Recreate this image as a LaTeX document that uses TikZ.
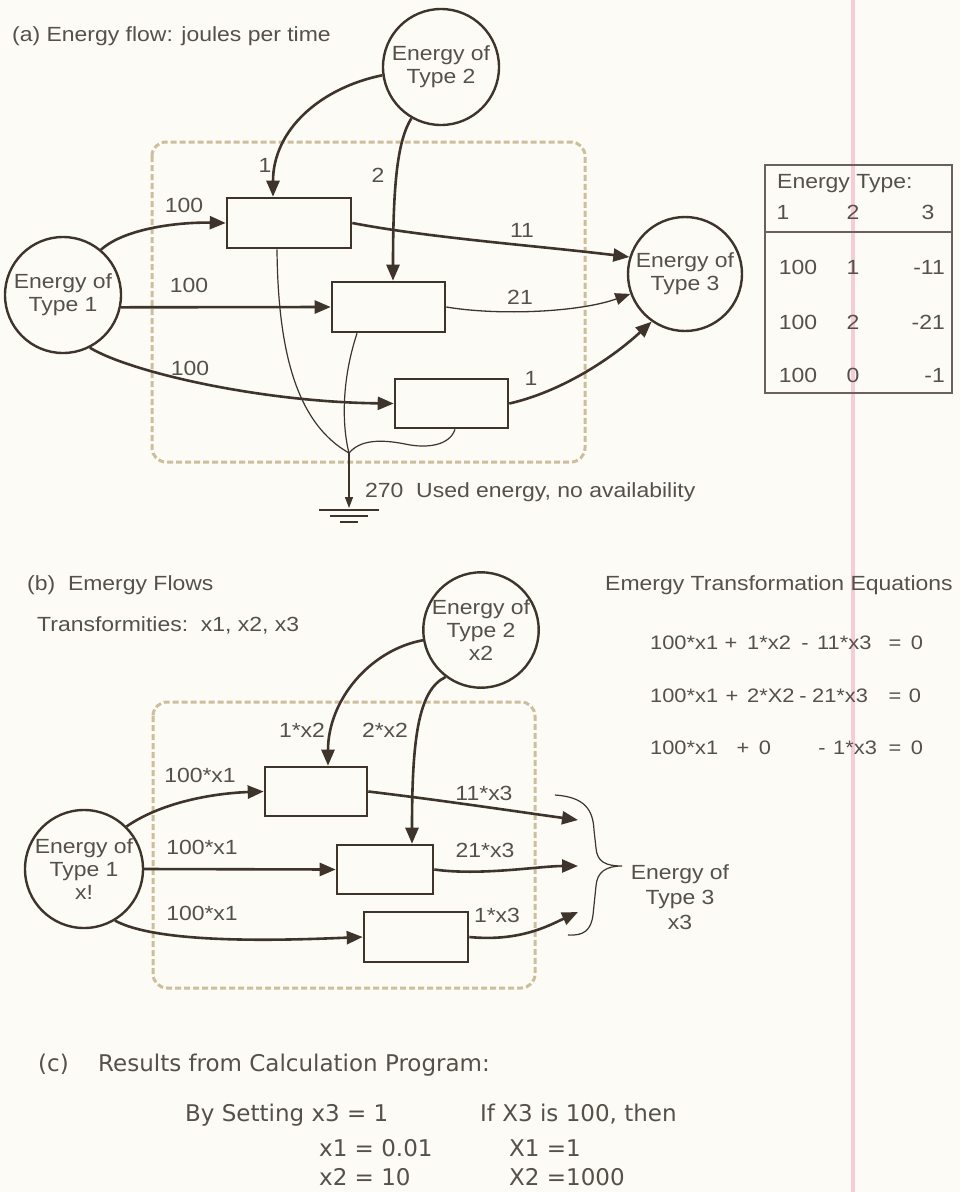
\documentclass[tikz,border=0pt]{standalone}
\usepackage{fontspec}
\setmainfont[FakeStretch=1.12]{Liberation Sans}
\newfontfamily\cfont{DejaVu Sans}
\usetikzlibrary{arrows.meta,calc}
\definecolor{bg}{HTML}{FCFBF6}
\definecolor{lc}{HTML}{3E342B}
\definecolor{tc}{HTML}{55504A}
\definecolor{dc}{HTML}{CDBF9E}
\definecolor{pk}{HTML}{F6CDD6}
\definecolor{tb}{HTML}{6A625A}
\tikzset{
  ecirc/.style={circle, draw=lc, line width=2.4pt, minimum size=116pt, inner sep=0pt, align=center, text=tc, font=\fontsize{20.5}{23}\selectfont},
  pbox/.style={draw=lc, line width=2.6pt, inner sep=0pt},
  flow/.style={draw=lc, line width=2.6pt, -{Triangle[length=16pt,width=13pt]}},
  thinflow/.style={draw=lc, line width=1.3pt, -{Triangle[length=15pt,width=12pt]}},
  gflow/.style={draw=lc, line width=1.2pt, -{Triangle[length=11pt,width=8pt]}},
  heat/.style={draw=lc, line width=1.2pt},
  lbl/.style={text=tc, inner sep=0pt},
  eq/.style={text=tc, inner sep=0pt, anchor=base west, font=\fontsize{19.5}{23}\selectfont},
  eqc/.style={text=tc, inner sep=0pt, anchor=base, font=\fontsize{19.5}{23}\selectfont},
  frame/.style={draw=dc, line width=3pt, dash pattern=on 6pt off 3pt, rounded corners=14pt},
  tbl/.style={draw=tb, line width=1.6pt},
  cf/.style={text=tc, inner sep=0pt, font=\cfont\fontsize{23}{27}\selectfont}
}
\begin{document}
\begin{tikzpicture}[x=1pt,y=-1pt,font=\fontsize{20.5}{24}\selectfont]
\fill[bg] (0,0) rectangle (960,1192);
\useasboundingbox (0,0) rectangle (960,1192);
\draw[pk, line width=4pt] (853,0) -- (853,1192);

% ---------- (a) ----------
\node[lbl, anchor=west] at (12,36) {(a) Energy flow: joules per time};
\draw[frame] (152,142) rectangle (585,462);

\node[ecirc] (t2a) at (441,67) {Energy of\\Type 2};
\node[ecirc] (t1a) at (63,295) {Energy of\\Type 1};
\node[ecirc, minimum size=114pt] (t3a) at (685,274) {Energy of\\Type 3};
\node[pbox, minimum width=124pt, minimum height=50pt] (b1a) at (289,223) {};
\node[pbox, minimum width=113pt, minimum height=50pt] (b2a) at (388.5,307) {};
\node[pbox, minimum width=113pt, minimum height=49pt] (b3a) at (451.5,403.5) {};
\coordinate (jn) at (349,453);
\coordinate (gnd) at (349,508);

\draw[flow] (t1a.50) .. controls (125,228) and (180,222) .. (b1a.west);
\draw[flow] (t1a.-12) -- (b2a.west);
\draw[flow] (t1a.-63) .. controls (130,372) and (260,402) .. (b3a.west);
\draw[flow] (t2a.188) .. controls (320,88) and (273,130) .. ([xshift=-16pt]b1a.north);
\draw[flow] (t2a.240) .. controls (398,140) and (393,180) .. ([xshift=4.5pt]b2a.north);
\draw[flow] (b1a.east) .. controls (430,238) and (540,246) .. (t3a.163);
\draw[thinflow] (b2a.east) .. controls (500,316) and (580,312) .. (t3a.200);
\draw[flow] (b3a.east) .. controls (560,392) and (610,360) .. (t3a.235);

\draw[heat] ([xshift=-12pt]b1a.south) .. controls (278,360) and (300,425) .. (jn);
\draw[heat] ([xshift=-31.5pt]b2a.south) .. controls (340,385) and (343,430) .. (jn);
\draw[heat] ([xshift=3.5pt]b3a.south) .. controls (450,445) and (428,449) .. (405,444) .. controls (380,439) and (360,440) .. (jn);
\draw[gflow] (jn) -- (gnd);
\draw[heat] ($(gnd)+(-30,2)$) -- ($(gnd)+(30,2)$);
\draw[heat] ($(gnd)+(-19,8)$) -- ($(gnd)+(19,8)$);
\draw[heat] ($(gnd)+(-9,14)$) -- ($(gnd)+(9,14)$);

\node[lbl] at (184,205) {100};
\node[lbl] at (189,285) {100};
\node[lbl] at (190,368) {100};
\node[lbl] at (265,165) {1};
\node[lbl] at (378,175) {2};
\node[lbl] at (522,230) {11};
\node[lbl] at (520,297) {21};
\node[lbl] at (531,378) {1};
\node[lbl, anchor=west] at (365,492) {270\ \ Used energy, no availability};

% table
\draw[tbl] (765,165) rectangle (952,393);
\draw[tbl] (765,232) -- (952,232);
\node[lbl, anchor=west] at (777,184) {Energy Type:};
\node[lbl] at (783,212) {1};
\node[lbl] at (853,212) {2};
\node[lbl] at (928,212) {3};
\node[lbl] at (798,267) {100};
\node[lbl] at (853,267) {1};
\node[lbl, anchor=east] at (945,267) {-11};
\node[lbl] at (798,322) {100};
\node[lbl] at (853,322) {2};
\node[lbl, anchor=east] at (945,322) {-21};
\node[lbl] at (798,375) {100};
\node[lbl] at (853,375) {0};
\node[lbl, anchor=east] at (945,375) {-1};

% ---------- (b) ----------
\node[lbl, anchor=west] at (27,585) {(b)\ \ Emergy Flows};
\node[lbl, anchor=west] at (37,625) {Transformities:\ \ x1, x2, x3};
\node[lbl, anchor=west] at (605,585) {Emergy Transformation Equations};
\draw[frame] (153,702) rectangle (535,988);

\node[ecirc, minimum size=112pt] (t2b) at (481,630) {Energy of\\Type 2\\x2};
\node[ecirc, minimum size=118pt] (t1b) at (84,869) {Energy of\\Type 1\\x!};
\node[pbox, minimum width=102pt, minimum height=49pt] (b1b) at (316,791.5) {};
\node[pbox, minimum width=96pt, minimum height=49pt] (b2b) at (385,869.5) {};
\node[pbox, minimum width=104pt, minimum height=50pt] (b3b) at (416,937) {};
\coordinate (e1) at (578,820);
\coordinate (e2) at (578,866);
\coordinate (e3) at (578,912);

\draw[flow] (t1b.45) .. controls (165,800) and (220,793) .. (b1b.west);
\draw[flow] (t1b.east) -- (b2b.west);
\draw[flow] (t1b.-59) .. controls (160,945) and (290,940) .. (b3b.west);
\draw[flow] (t2b.190) .. controls (370,650) and (328,700) .. ([xshift=12pt]b1b.north);
\draw[flow] (t2b.233) .. controls (418,690) and (412,740) .. ([xshift=27pt]b2b.north);
\draw[flow] (b1b.east) .. controls (440,800) and (520,812) .. (e1);
\draw[flow] (b2b.east) .. controls (480,876) and (540,866) .. (e2);
\draw[flow] (b3b.east) .. controls (520,942) and (550,925) .. (e3);

\node[lbl] at (200,775) {100*x1};
\node[lbl] at (202,847) {100*x1};
\node[lbl] at (202,913) {100*x1};
\node[lbl] at (302,730) {1*x2};
\node[lbl] at (385,730) {2*x2};
\node[lbl] at (484,793) {11*x3};
\node[lbl] at (485,850) {21*x3};
\node[lbl] at (497,915) {1*x3};

\coordinate (btip) at (622,866);
\draw[heat] (555,795) .. controls (585,797) and (593,810) .. (594,830) -- (596,848) .. controls (597,862) and (606,866) .. (btip) .. controls (606,866) and (597,872) .. (596,886) -- (593,915) .. controls (591,930) and (584,936) .. (568,935);
\node[lbl, align=center, font=\fontsize{20.5}{25}\selectfont] (t3b) at (680,897) {Energy of\\Type 3\\x3};

% equations
\node[eq] at (650,649) {100*x1};
\node[eqc] at (731,649) {+};
\node[eq] at (747,649) {1*x2};
\node[eqc] at (805,649) {-};
\node[eq] at (817,649) {11*x3};
\node[eqc] at (895,649) {=};
\node[eqc] at (917,649) {0};
\node[eq] at (650,702) {100*x1};
\node[eqc] at (732,702) {+};
\node[eq] at (747,702) {2*X2};
\node[eqc] at (803,702) {-};
\node[eq] at (812,702) {21*x3};
\node[eqc] at (895,702) {=};
\node[eqc] at (915,702) {0};
\node[eq] at (650,754) {100*x1};
\node[eqc] at (743,754) {+};
\node[eqc] at (765,754) {0};
\node[eqc] at (822,754) {-};
\node[eq] at (833,754) {1*x3};
\node[eqc] at (895,754) {=};
\node[eqc] at (917,754) {0};

% ---------- (c) ----------
\node[cf, anchor=base west] at (38,1071) {(c)};
\node[cf, anchor=base west] at (98,1071) {Results from Calculation Program:};
\node[cf, anchor=base west] at (185,1121) {By Setting x3 = 1};
\node[cf, anchor=base west] at (319,1156) {x1 = 0.01};
\node[cf, anchor=base west] at (319,1185) {x2 = 10};
\node[cf, anchor=base west] at (480,1121) {If X3 is 100, then};
\node[cf, anchor=base west] at (509,1156) {X1 =1};
\node[cf, anchor=base west] at (509,1185) {X2 =1000};
\end{tikzpicture}
\end{document}
